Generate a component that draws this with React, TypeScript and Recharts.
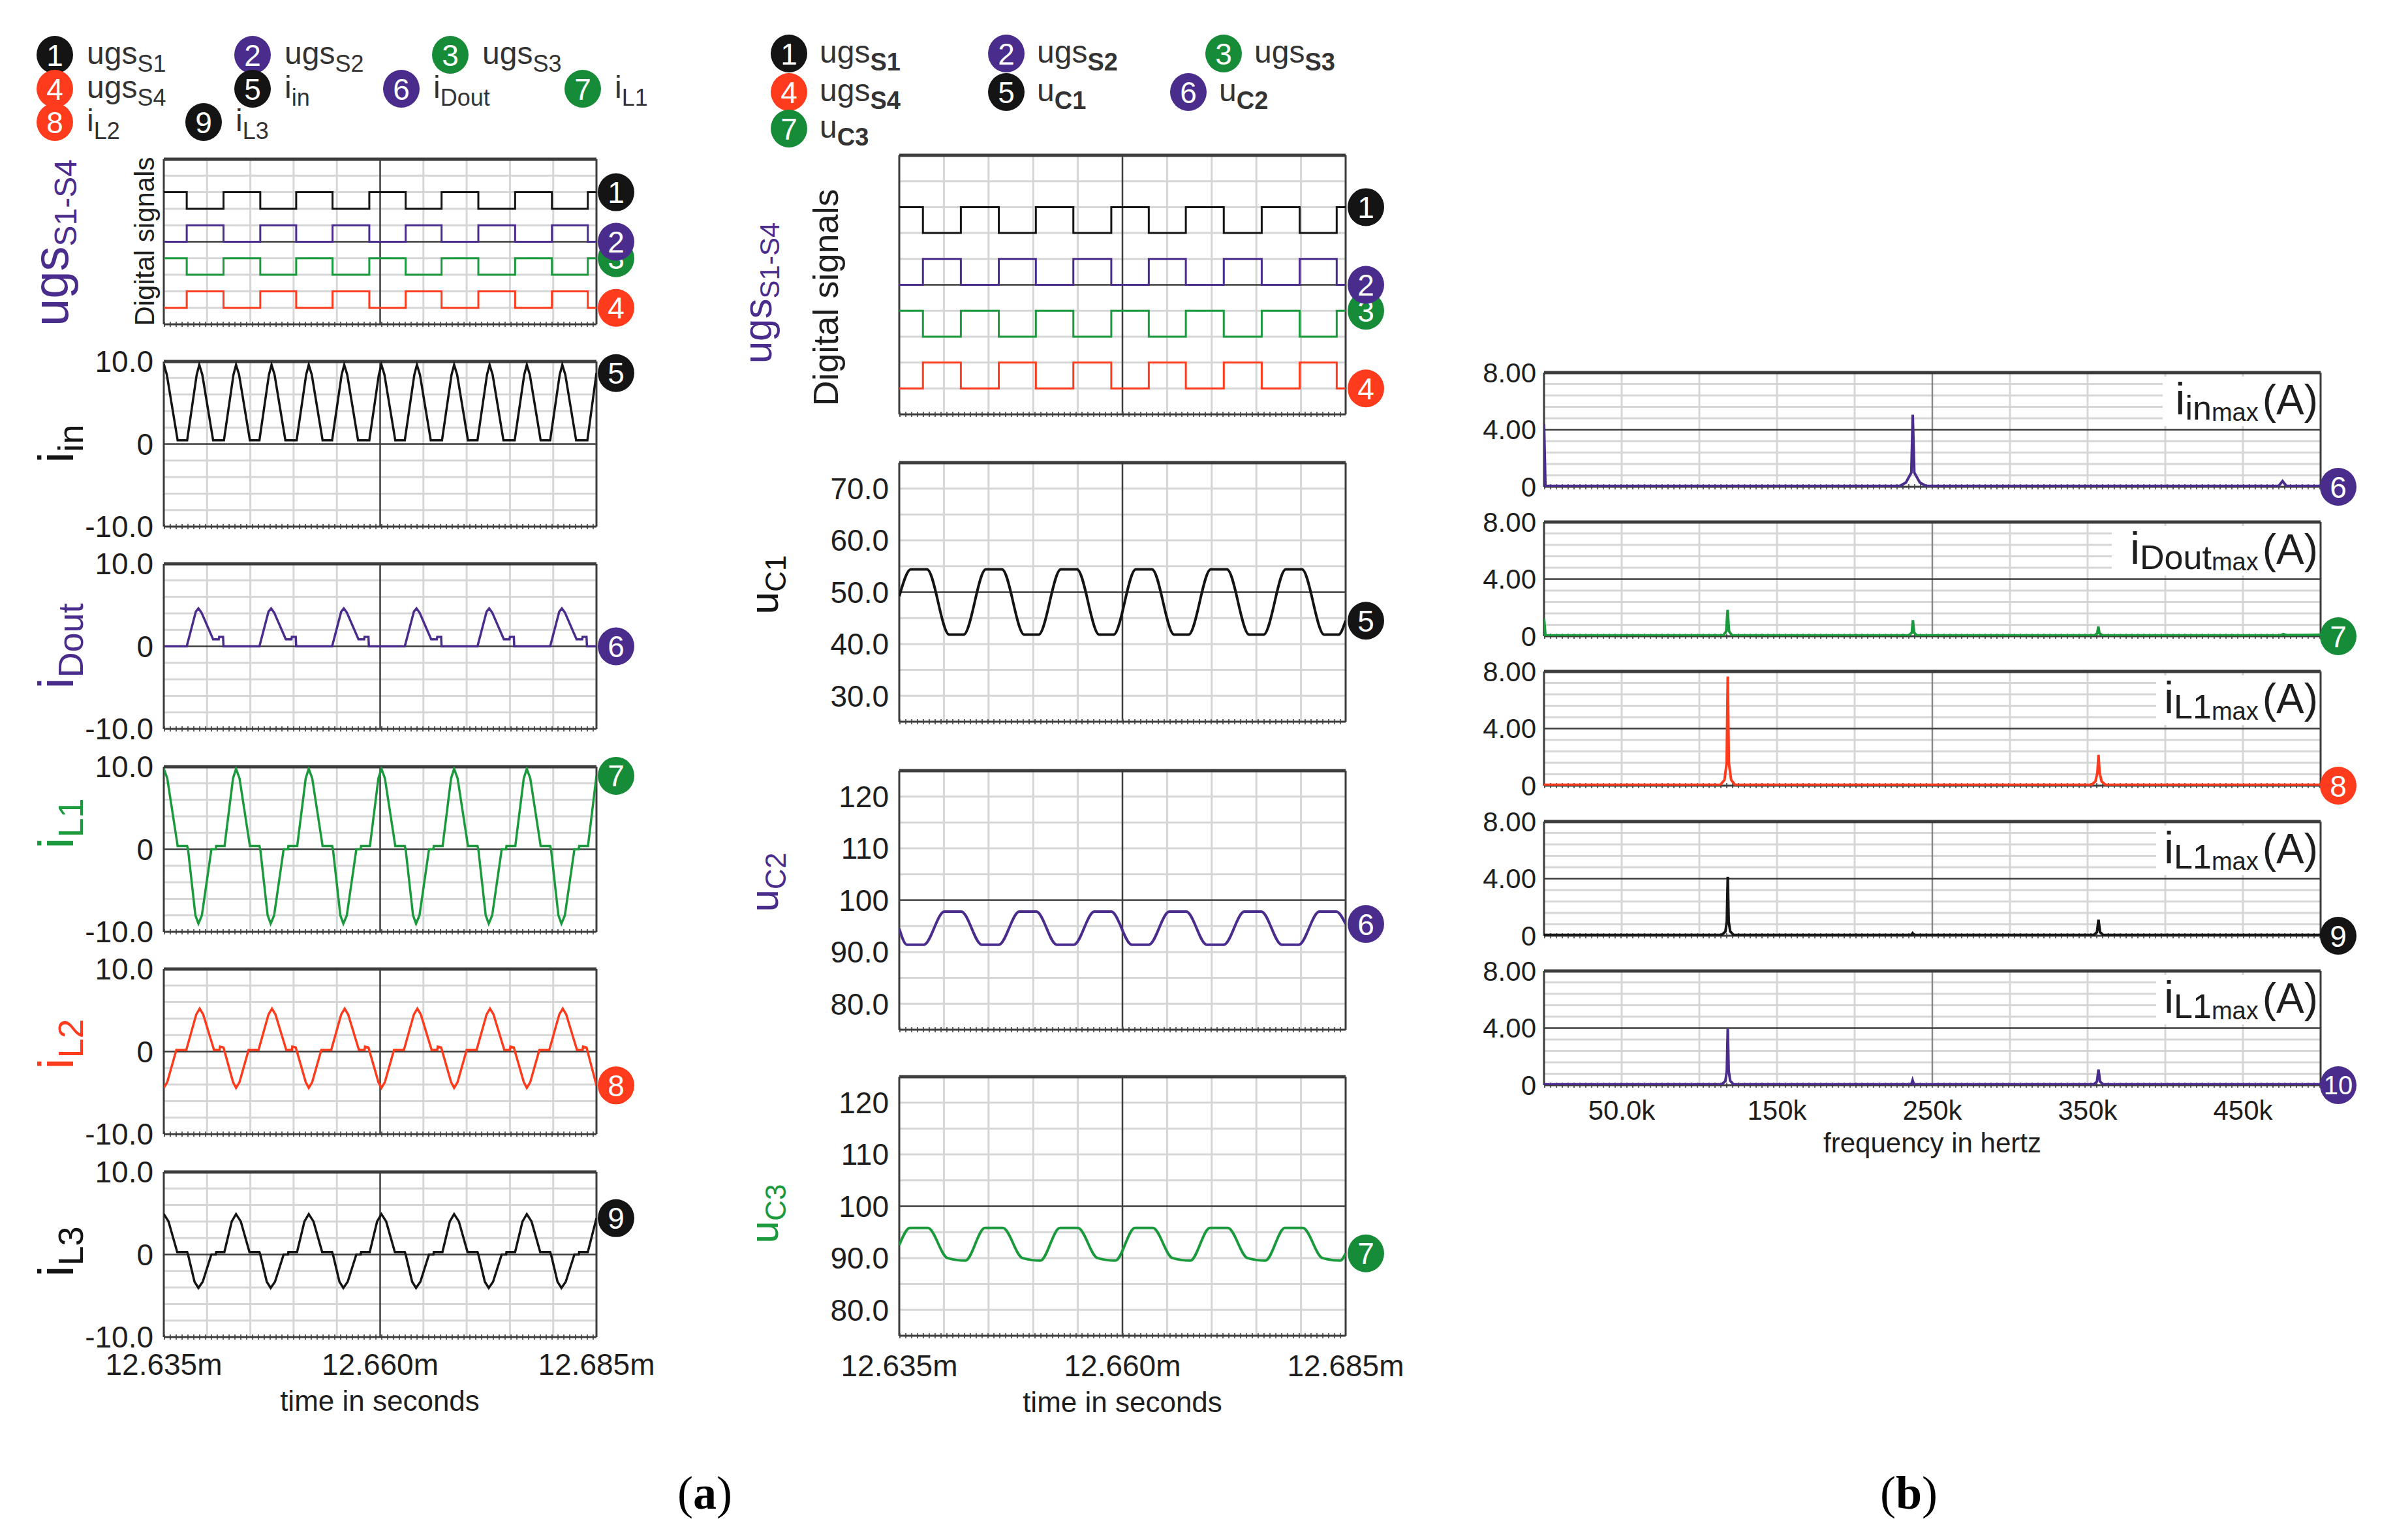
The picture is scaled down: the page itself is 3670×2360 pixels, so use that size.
import React from 'react';
import { LineChart, Line, XAxis, YAxis, ReferenceLine, ReferenceDot } from 'recharts';

type Pt = [number, number];

// time is given in µs after 12.635 ms
const TIME_TICKS = [0, 25, 50];
const TIME_LABELS = ['12.635m', '12.660m', '12.685m'];
const FREQ_TICKS = [50000, 150000, 250000, 350000, 450000];
const FREQ_LABELS = ['50.0k', '150k', '250k', '350k', '450k'];
const I_TICKS = [-10, 0, 10];
const I_LABELS = ['-10.0', '0', '10.0'];
const UC1_TICKS = [30, 40, 50, 60, 70];
const UC1_LABELS = ['30.0', '40.0', '50.0', '60.0', '70.0'];
const UC_TICKS = [80, 90, 100, 110, 120];
const UC_LABELS = ['80.0', '90.0', '100', '110', '120'];
const FFT_TICKS = [0, 4, 8];
const FFT_LABELS = ['0', '4.00', '8.00'];

// gate signals, stacked levels on the "Digital signals" plot
const DIG_T = [0, 2.65, 6.9, 11.15, 15.3, 19.5, 23.75, 27.95, 32.1, 36.35, 40.6, 44.85, 49.0, 50];
const UGS_S1 = [8, 7, 8, 7, 8, 7, 8, 7, 8, 7, 8, 7, 8, 8];
const UGS_S2 = [5, 6, 5, 6, 5, 6, 5, 6, 5, 6, 5, 6, 5, 5];
const UGS_S3 = [4, 3, 4, 3, 4, 3, 4, 3, 4, 3, 4, 3, 4, 4];
const UGS_S4 = [1, 2, 1, 2, 1, 2, 1, 2, 1, 2, 1, 2, 1, 1];

const I_IN: Pt[] = [
  [0, 9.7], [0.35, 8.4], [1.6, 0.45],
  [2.7, 0.45], [3.8, 8.4], [4.1, 9.6], [4.45, 8.4], [5.7, 0.45],
  [6.95, 0.45], [8.05, 8.4], [8.35, 9.6], [8.7, 8.4], [9.95, 0.45],
  [11.05, 0.45], [12.15, 8.4], [12.45, 9.6], [12.8, 8.4], [14.05, 0.45],
  [15.35, 0.45], [16.45, 8.4], [16.75, 9.6], [17.1, 8.4], [18.35, 0.45],
  [19.45, 0.45], [20.55, 8.4], [20.85, 9.6], [21.2, 8.4], [22.45, 0.45],
  [23.75, 0.45], [24.85, 8.4], [25.15, 9.6], [25.5, 8.4], [26.75, 0.45],
  [27.85, 0.45], [28.95, 8.4], [29.25, 9.6], [29.6, 8.4], [30.85, 0.45],
  [32.15, 0.45], [33.25, 8.4], [33.55, 9.6], [33.9, 8.4], [35.15, 0.45],
  [36.25, 0.45], [37.35, 8.4], [37.65, 9.6], [38.0, 8.4], [39.25, 0.45],
  [40.55, 0.45], [41.65, 8.4], [41.95, 9.6], [42.3, 8.4], [43.55, 0.45],
  [44.65, 0.45], [45.75, 8.4], [46.05, 9.6], [46.4, 8.4], [47.65, 0.45],
  [48.95, 0.45], [50, 8.6],
];

const I_DOUT: Pt[] = [
  [0, 0], [2.65, 0], [3.7, 4.2], [4.0, 4.6], [4.35, 4.1], [5.7, 0.85], [6.35, 0.85], [6.4, 1.15], [6.85, 1.15], [6.9, 0],
  [11.05, 0], [12.1, 4.2], [12.4, 4.6], [12.75, 4.1], [14.1, 0.85], [14.75, 0.85], [14.8, 1.15], [15.25, 1.15], [15.3, 0],
  [19.45, 0], [20.5, 4.2], [20.8, 4.6], [21.15, 4.1], [22.5, 0.85], [23.15, 0.85], [23.2, 1.15], [23.65, 1.15], [23.7, 0],
  [27.85, 0], [28.9, 4.2], [29.2, 4.6], [29.55, 4.1], [30.9, 0.85], [31.55, 0.85], [31.6, 1.15], [32.05, 1.15], [32.1, 0],
  [36.25, 0], [37.3, 4.2], [37.6, 4.6], [37.95, 4.1], [39.3, 0.85], [39.95, 0.85], [40.0, 1.15], [40.45, 1.15], [40.5, 0],
  [44.65, 0], [45.7, 4.2], [46.0, 4.6], [46.35, 4.1], [47.7, 0.85], [48.35, 0.85], [48.4, 1.15], [48.85, 1.15], [48.9, 0],
  [50, 0],
];

const I_L1: Pt[] = [
  [0, 9.75], [0.4, 8.6], [1.6, 0.4], [2.7, 0.4], [2.8, 0], [3.65, -8.0], [4.0, -9.0], [4.4, -8.0], [5.5, 0], [6.0, 0], [6.05, 0.4],
  [7.02, 0.4], [8.0, 8.6], [8.35, 9.75], [8.75, 8.6], [9.95, 0.4], [11.05, 0.4], [11.15, 0], [12.0, -8.0], [12.35, -9.0], [12.75, -8.0], [13.85, 0], [14.35, 0], [14.4, 0.4],
  [15.42, 0.4], [16.4, 8.6], [16.75, 9.75], [17.15, 8.6], [18.35, 0.4], [19.45, 0.4], [19.55, 0], [20.4, -8.0], [20.75, -9.0], [21.15, -8.0], [22.25, 0], [22.75, 0], [22.8, 0.4],
  [23.82, 0.4], [24.8, 8.6], [25.15, 9.75], [25.55, 8.6], [26.75, 0.4], [27.85, 0.4], [27.95, 0], [28.8, -8.0], [29.15, -9.0], [29.55, -8.0], [30.65, 0], [31.15, 0], [31.2, 0.4],
  [32.22, 0.4], [33.2, 8.6], [33.55, 9.75], [33.95, 8.6], [35.15, 0.4], [36.25, 0.4], [36.35, 0], [37.2, -8.0], [37.55, -9.0], [37.95, -8.0], [39.05, 0], [39.55, 0], [39.6, 0.4],
  [40.62, 0.4], [41.6, 8.6], [41.95, 9.75], [42.35, 8.6], [43.55, 0.4], [44.65, 0.4], [44.75, 0], [45.6, -8.0], [45.95, -9.0], [46.35, -8.0], [47.45, 0], [47.95, 0], [48.0, 0.4],
  [49.02, 0.4], [50, 8.9],
];

const I_L2: Pt[] = [
  [0, -4.4], [0.4, -3.7], [1.45, 0.2], [2.6, 0.2], [3.75, 4.5], [4.15, 5.2], [4.55, 4.5], [5.8, 0.2], [6.45, 0.2], [6.5, 0.6], [6.9, 0.5], [8.0, -3.7], [8.35, -4.4],
  [8.75, -3.7], [9.8, 0.2], [10.95, 0.2], [12.1, 4.5], [12.5, 5.2], [12.9, 4.5], [14.15, 0.2], [14.8, 0.2], [14.85, 0.6], [15.25, 0.5], [16.4, -3.7], [16.75, -4.4],
  [17.15, -3.7], [18.2, 0.2], [19.35, 0.2], [20.5, 4.5], [20.9, 5.2], [21.3, 4.5], [22.55, 0.2], [23.2, 0.2], [23.25, 0.6], [23.65, 0.5], [24.8, -3.7], [25.15, -4.4],
  [25.55, -3.7], [26.6, 0.2], [27.75, 0.2], [28.9, 4.5], [29.3, 5.2], [29.7, 4.5], [30.95, 0.2], [31.6, 0.2], [31.65, 0.6], [32.05, 0.5], [33.2, -3.7], [33.55, -4.4],
  [33.95, -3.7], [35.0, 0.2], [36.15, 0.2], [37.3, 4.5], [37.7, 5.2], [38.1, 4.5], [39.35, 0.2], [40.0, 0.2], [40.05, 0.6], [40.45, 0.5], [41.6, -3.7], [41.95, -4.4],
  [42.35, -3.7], [43.4, 0.2], [44.55, 0.2], [45.7, 4.5], [46.1, 5.2], [46.5, 4.5], [47.75, 0.2], [48.4, 0.2], [48.45, 0.6], [48.85, 0.5], [50, -4.1],
];

const I_L3: Pt[] = [
  [0, 4.9], [0.55, 4.0], [1.55, 0.3], [2.7, 0.3], [2.8, 0], [3.55, -3.3], [4.0, -4.05], [4.5, -3.3], [5.5, 0], [6.0, 0], [6.05, 0.3],
  [7.0, 0.3], [7.85, 4.0], [8.35, 4.9], [8.9, 4.0], [9.9, 0.3], [11.05, 0.3], [11.15, 0], [11.9, -3.3], [12.35, -4.05], [12.85, -3.3], [13.85, 0], [14.35, 0], [14.4, 0.3],
  [15.4, 0.3], [16.25, 4.0], [16.75, 4.9], [17.3, 4.0], [18.3, 0.3], [19.45, 0.3], [19.55, 0], [20.3, -3.3], [20.75, -4.05], [21.25, -3.3], [22.25, 0], [22.75, 0], [22.8, 0.3],
  [23.8, 0.3], [24.65, 4.0], [25.15, 4.9], [25.7, 4.0], [26.7, 0.3], [27.85, 0.3], [27.95, 0], [28.7, -3.3], [29.15, -4.05], [29.65, -3.3], [30.65, 0], [31.15, 0], [31.2, 0.3],
  [32.2, 0.3], [33.05, 4.0], [33.55, 4.9], [34.1, 4.0], [35.1, 0.3], [36.25, 0.3], [36.35, 0], [37.1, -3.3], [37.55, -4.05], [38.05, -3.3], [39.05, 0], [39.55, 0], [39.6, 0.3],
  [40.6, 0.3], [41.45, 4.0], [41.95, 4.9], [42.5, 4.0], [43.5, 0.3], [44.65, 0.3], [44.75, 0], [45.5, -3.3], [45.95, -4.05], [46.45, -3.3], [47.45, 0], [47.95, 0], [48.0, 0.3],
  [49.0, 0.3], [50, 4.4],
];

const U_C1: Pt[] = [
  [0, 49.2], [1.3, 54.4], [3.1, 54.4], [5.6, 41.8], [7.2, 41.8], [9.7, 54.4], [11.5, 54.4], [14.0, 41.8], [15.6, 41.8],
  [18.1, 54.4], [19.9, 54.4], [22.4, 41.8], [24.0, 41.8], [26.5, 54.4], [28.3, 54.4], [30.8, 41.8], [32.4, 41.8],
  [34.9, 54.4], [36.7, 54.4], [39.2, 41.8], [40.8, 41.8], [43.3, 54.4], [45.1, 54.4], [47.6, 41.8], [49.2, 41.8], [50, 44.5],
];

const U_C2: Pt[] = [
  [0, 94.5], [0.85, 91.4], [2.75, 91.4], [5.05, 97.8], [6.95, 97.8], [9.25, 91.4], [11.15, 91.4], [13.45, 97.8], [15.35, 97.8],
  [17.65, 91.4], [19.55, 91.4], [21.85, 97.8], [23.75, 97.8], [26.05, 91.4], [27.95, 91.4], [30.25, 97.8], [32.15, 97.8],
  [34.45, 91.4], [36.35, 91.4], [38.65, 97.8], [40.55, 97.8], [42.85, 91.4], [44.75, 91.4], [47.05, 97.8], [48.95, 97.8], [50, 95.4],
];

const U_C3: Pt[] = [
  [0, 92.5], [1.2, 95.8], [3.2, 95.8], [5.4, 90.0], [7.4, 89.5], [9.6, 95.8], [11.6, 95.8], [13.8, 90.0], [15.8, 89.5],
  [18.0, 95.8], [20.0, 95.8], [22.2, 90.0], [24.2, 89.5], [26.4, 95.8], [28.4, 95.8], [30.6, 90.0], [32.6, 89.5],
  [34.8, 95.8], [36.8, 95.8], [39.0, 90.0], [41.0, 89.5], [43.2, 95.8], [45.2, 95.8], [47.4, 90.0], [49.4, 89.5], [50, 90.9],
];

// harmonic spectra, frequency in Hz, amplitude in A
const FFT_IN: Pt[] = [
  [0, 4.4], [900, 0.06], [229000, 0.06], [233000, 0.3], [236500, 1.0], [237400, 5.05], [238400, 1.0], [242000, 0.3],
  [246000, 0.06], [473000, 0.06], [475500, 0.4], [478000, 0.06], [500000, 0.06],
];
const FFT_DOUT: Pt[] = [
  [0, 1.25], [900, 0.06], [115500, 0.06], [117300, 0.35], [118200, 1.85], [119100, 0.35], [121000, 0.06],
  [235000, 0.06], [236800, 0.25], [237500, 1.12], [238300, 0.25], [240000, 0.06],
  [354500, 0.06], [356200, 0.2], [356900, 0.68], [357600, 0.2], [359300, 0.06],
  [474000, 0.06], [476000, 0.14], [478000, 0.08], [500000, 0.1],
];
const FFT_L1: Pt[] = [
  [0, 0.06], [113500, 0.06], [116200, 0.4], [117600, 1.6], [118300, 7.65], [119000, 1.6], [120500, 0.4], [123000, 0.06],
  [352500, 0.06], [355000, 0.3], [356300, 0.9], [357000, 2.15], [357700, 0.9], [359000, 0.3], [361500, 0.06], [500000, 0.06],
];
const FFT_L2: Pt[] = [
  [0, 0.06], [114500, 0.06], [116800, 0.3], [117700, 1.0], [118300, 4.12], [118900, 1.0], [119900, 0.3], [122000, 0.06],
  [236500, 0.06], [237300, 0.18], [238100, 0.06],
  [354000, 0.06], [356000, 0.25], [357000, 1.12], [358000, 0.25], [360000, 0.06], [500000, 0.06],
];
const FFT_L3: Pt[] = [
  [0, 0.06], [114500, 0.06], [116800, 0.3], [117700, 1.0], [118300, 3.95], [118900, 1.0], [119900, 0.3], [122000, 0.06],
  [236500, 0.06], [237300, 0.35], [238100, 0.06],
  [354000, 0.06], [356000, 0.25], [357000, 1.1], [358000, 0.25], [360000, 0.06], [500000, 0.06],
];

const SANS = '"Liberation Sans", Arial, Helvetica, sans-serif';
const NARROW = '"Liberation Sans Narrow", "Liberation Sans", Arial, sans-serif';
const SERIF = '"Liberation Serif", "Times New Roman", serif';
const TEXT = '#1e1e1e';
const BLACK = '#141414';
const PURPLE = '#4a2c8c';
const GREEN = '#1a9a3c';
const GREEN_B = '#178c38';
const RED = '#ff3b1d';
const GRID = '#d6d6d6';
const DARK = '#3c3c3c';

const PAD_T = 40;
const PAD_R = 110;
const PAD_B = 40;
const X_AX_H = 95;

const rows = (pts: Pt[]) => pts.map(([t, v]) => ({ t, v }));
const stepRows = (vals: number[]) => DIG_T.map((t, i) => ({ t, v: vals[i] }));
const fmt = (ticks: number[], labels: string[]) => (v: number) => {
  const i = ticks.findIndex((t) => Math.abs(t - v) < 1e-6);
  return i >= 0 ? labels[i] : '';
};

function Badge({ cx, cy, label, fill, r = 28 }: { cx: number; cy: number; label: string; fill: string; r?: number }) {
  return (
    <g>
      <ellipse cx={cx} cy={cy} rx={r} ry={r + 1} fill={fill} />
      <text x={cx} y={cy} dy="0.36em" textAnchor="middle" fill="#fff" fontSize={label.length > 1 ? 40 : 46} fontFamily={NARROW}>
        {label}
      </text>
    </g>
  );
}

type Trace = { data: { t: number; v: number }[]; color: string; width?: number; curve?: 'linear' | 'stepAfter' | 'monotone' };
type BadgeSpec = { v: number; label: string; fill: string };

interface ScopeProps {
  x: number; y: number; w: number; h: number;
  xDomain: [number, number]; yDomain: [number, number];
  yTicks?: number[]; yLabels?: string[];
  xTicks?: number[]; xLabels?: string[]; xTickMargin?: number;
  hGrid: number[]; hDark: number[]; vGrid: number[]; vDark: number[]; vDarkColor?: string;
  traces: Trace[]; badges: BadgeSpec[];
  axisW: number; fontSize: number; yTickMargin: number; badgeDx: number;
}

function Scope(p: ScopeProps) {
  const hasX = !!p.xTicks;
  const [x0, x1] = p.xDomain;
  const [y0, y1] = p.yDomain;
  const tickStyle = { fontSize: p.fontSize, fill: TEXT, fontFamily: SANS };
  return (
    <div style={{ position: 'absolute', left: p.x - p.axisW, top: p.y - PAD_T }}>
      <LineChart
        width={p.axisW + p.w + PAD_R}
        height={PAD_T + p.h + (hasX ? X_AX_H : PAD_B)}
        margin={{ top: PAD_T, right: PAD_R, bottom: hasX ? 0 : PAD_B, left: 0 }}
      >
        <XAxis
          type="number" dataKey="t" domain={p.xDomain} allowDataOverflow hide={!hasX}
          height={hasX ? X_AX_H : 0} ticks={p.xTicks} interval={0}
          tickFormatter={hasX ? fmt(p.xTicks!, p.xLabels!) : undefined}
          tickLine={false} axisLine={false} tickSize={6} tickMargin={p.xTickMargin ?? 18} tick={tickStyle}
        />
        <YAxis
          type="number" domain={p.yDomain} allowDataOverflow width={p.axisW}
          ticks={p.yTicks} interval={0} tick={p.yTicks ? tickStyle : false}
          tickFormatter={p.yTicks ? fmt(p.yTicks, p.yLabels!) : undefined}
          tickLine={false} axisLine={false} tickSize={6} tickMargin={p.yTickMargin}
        />
        {p.hGrid.map((v) => <ReferenceLine key={'h' + v} y={v} stroke={GRID} strokeWidth={3} />)}
        {p.vGrid.map((v) => <ReferenceLine key={'v' + v} x={v} stroke={GRID} strokeWidth={3} />)}
        {p.vDark.map((v) => <ReferenceLine key={'vd' + v} x={v} stroke={p.vDarkColor ?? DARK} strokeWidth={2.5} />)}
        {p.hDark.map((v) => <ReferenceLine key={'hd' + v} y={v} stroke={DARK} strokeWidth={2.5} />)}
        <ReferenceLine y={y0} stroke="#666" strokeWidth={8} strokeDasharray="2 7" />
        <ReferenceLine y={y0} stroke={DARK} strokeWidth={3} />
        <ReferenceLine y={y1} stroke={DARK} strokeWidth={5} />
        <ReferenceLine x={x0} stroke={DARK} strokeWidth={3} />
        <ReferenceLine x={x1} stroke={DARK} strokeWidth={3} />
        {p.traces.map((tr, i) => (
          <Line
            key={i} data={tr.data} dataKey="v" type={tr.curve ?? 'linear'} stroke={tr.color}
            strokeWidth={tr.width ?? 3.5} dot={false} activeDot={false} isAnimationActive={false}
          />
        ))}
        {p.badges.map((b, i) => (
          <ReferenceDot
            key={'b' + i} x={x1} y={b.v} r={0} ifOverflow="visible"
            shape={(sp: any) => <Badge cx={sp.cx + p.badgeDx} cy={sp.cy} label={b.label} fill={b.fill} />}
          />
        ))}
      </LineChart>
    </div>
  );
}

// grid sets (data units)
const T_GRID = [5, 10, 15, 20, 30, 35, 40, 45];
const I_GRID = [-8, -6, -4, -2, 2, 4, 6, 8];
const DIG_GRID = [1, 2, 3, 4, 6, 7, 8, 9];
const UC1_GRID = [30, 35, 40, 45, 55, 60, 65, 70];
const UC_GRID = [80, 85, 90, 95, 105, 110, 115, 120];
const F_GRID = [50000, 100000, 150000, 200000, 300000, 350000, 400000, 450000];
const FA_GRID = [0.8, 1.6, 2.4, 3.2, 4.8, 5.6, 6.4, 7.2];

const LEFT = { x: 251, w: 663, h: 253, axisW: 130, fontSize: 46, yTickMargin: 10, badgeDx: 30 };
const MID = { x: 1378, w: 684, h: 397, axisW: 130, fontSize: 46, yTickMargin: 10, badgeDx: 31 };
const RIGHT = { x: 2366, w: 1190, h: 175, axisW: 115, fontSize: 42, yTickMargin: 6, badgeDx: 27 };

const digitalTraces: Trace[] = [
  { data: stepRows(UGS_S1), color: BLACK, width: 3, curve: 'stepAfter' },
  { data: stepRows(UGS_S2), color: PURPLE, width: 3, curve: 'stepAfter' },
  { data: stepRows(UGS_S3), color: GREEN, width: 3, curve: 'stepAfter' },
  { data: stepRows(UGS_S4), color: RED, width: 3, curve: 'stepAfter' },
];
const digitalBadges: BadgeSpec[] = [
  { v: 1, label: '4', fill: RED },
  { v: 4, label: '3', fill: GREEN_B },
  { v: 5, label: '2', fill: PURPLE },
  { v: 8, label: '1', fill: BLACK },
];

const LEFT_LEGEND = [
  { x: 84, y: 84, n: '1', fill: BLACK, main: 'ugs', sub: 'S1' },
  { x: 387, y: 84, n: '2', fill: PURPLE, main: 'ugs', sub: 'S2' },
  { x: 690, y: 84, n: '3', fill: GREEN_B, main: 'ugs', sub: 'S3' },
  { x: 84, y: 136, n: '4', fill: RED, main: 'ugs', sub: 'S4' },
  { x: 387, y: 136, n: '5', fill: BLACK, main: 'i', sub: 'in' },
  { x: 615, y: 136, n: '6', fill: PURPLE, main: 'i', sub: 'Dout' },
  { x: 893, y: 136, n: '7', fill: GREEN_B, main: 'i', sub: 'L1' },
  { x: 84, y: 187, n: '8', fill: RED, main: 'i', sub: 'L2' },
  { x: 312, y: 187, n: '9', fill: BLACK, main: 'i', sub: 'L3' },
];
const MID_LEGEND = [
  { x: 1209, y: 82, n: '1', fill: BLACK, main: 'ugs', sub: 'S1' },
  { x: 1542, y: 82, n: '2', fill: PURPLE, main: 'ugs', sub: 'S2' },
  { x: 1875, y: 82, n: '3', fill: GREEN_B, main: 'ugs', sub: 'S3' },
  { x: 1209, y: 141, n: '4', fill: RED, main: 'ugs', sub: 'S4' },
  { x: 1542, y: 141, n: '5', fill: BLACK, main: 'u', sub: 'C1' },
  { x: 1821, y: 141, n: '6', fill: PURPLE, main: 'u', sub: 'C2' },
  { x: 1209, y: 197, n: '7', fill: GREEN_B, main: 'u', sub: 'C3' },
];

function VLabel({ x, y, color, main, sub, fs, subFs, family = NARROW }: any) {
  return (
    <text x={x} y={y} transform={`rotate(-90 ${x} ${y})`} textAnchor="middle" fill={color} fontSize={fs} fontFamily={family}>
      {main}
      {sub ? <tspan fontSize={subFs} dy={subFs * 0.28}>{sub}</tspan> : null}
    </text>
  );
}

function FftTag({ right, top, sub, boxW }: { right: number; top: number; sub: string; boxW: number }) {
  return (
    <g>
      <rect x={right - boxW} y={top + 6} width={boxW - 2} height={76} fill="#fff" />
      <text x={right - 4} y={top + 64} textAnchor="end" fontFamily={NARROW} fontSize={68} fill={TEXT}>
        i<tspan fontSize={52} dy={8}>{sub}</tspan>
        <tspan fontSize={38} dy={2}>max</tspan>
        <tspan fontSize={64} dx={6} dy={-10}>(A)</tspan>
      </text>
    </g>
  );
}

export default function App() {
  const iPlot = (y: number, data: Pt[], color: string, n: string, badgeFill: string, last = false) => (
    <Scope
      {...LEFT} y={y} xDomain={[0, 50]} yDomain={[-10, 10]} yTicks={I_TICKS} yLabels={I_LABELS}
      xTicks={last ? TIME_TICKS : undefined} xLabels={TIME_LABELS} xTickMargin={19}
      hGrid={I_GRID} hDark={[0]} vGrid={T_GRID} vDark={[25]}
      traces={[{ data: rows(data), color }]} badges={[{ v: data[data.length - 1][1], label: n, fill: badgeFill }]}
    />
  );
  const ucPlot = (y: number, data: Pt[], dom: [number, number], ticks: number[], labels: string[], grid: number[], dark: number, color: string, n: string, fill: string, last = false) => (
    <Scope
      {...MID} y={y} xDomain={[0, 50]} yDomain={dom} yTicks={ticks} yLabels={labels}
      xTicks={last ? TIME_TICKS : undefined} xLabels={TIME_LABELS} xTickMargin={23}
      hGrid={grid} hDark={[dark]} vGrid={T_GRID} vDark={[25]}
      traces={[{ data: rows(data), color, curve: 'monotone', width: 4 }]}
      badges={[{ v: data[data.length - 1][1], label: n, fill }]}
    />
  );
  const fftPlot = (y: number, data: Pt[], color: string, n: string, fill: string, last = false) => (
    <Scope
      {...RIGHT} y={y} xDomain={[0, 500000]} yDomain={[0, 8]} yTicks={FFT_TICKS} yLabels={FFT_LABELS}
      xTicks={last ? FREQ_TICKS : undefined} xLabels={FREQ_LABELS} xTickMargin={17}
      hGrid={FA_GRID} hDark={[4]} vGrid={F_GRID} vDark={[250000]} vDarkColor="#8a8a8a"
      traces={[{ data: rows(data), color, width: 4 }]} badges={[{ v: 0, label: n, fill }]}
    />
  );

  return (
    <div style={{ position: 'absolute', left: 0, top: 0, width: 3670, height: 2360, background: '#fff', overflow: 'hidden' }}>
      {/* (a) left column */}
      <Scope {...LEFT} y={244} xDomain={[0, 50]} yDomain={[0, 10]} hGrid={DIG_GRID} hDark={[5]} vGrid={T_GRID} vDark={[25]} traces={digitalTraces} badges={digitalBadges} />
      {iPlot(554, I_IN, BLACK, '5', BLACK)}
      {iPlot(864, I_DOUT, PURPLE, '6', PURPLE)}
      {iPlot(1175, I_L1, GREEN, '7', GREEN_B)}
      {iPlot(1485, I_L2, RED, '8', RED)}
      {iPlot(1796, I_L3, BLACK, '9', BLACK, true)}

      {/* (a) middle column */}
      <Scope {...MID} y={238} xDomain={[0, 50]} yDomain={[0, 10]} hGrid={DIG_GRID} hDark={[5]} vGrid={T_GRID} vDark={[25]} traces={digitalTraces} badges={digitalBadges} />
      {ucPlot(709, U_C1, [25, 75], UC1_TICKS, UC1_LABELS, UC1_GRID, 50, BLACK, '5', BLACK)}
      {ucPlot(1181, U_C2, [75, 125], UC_TICKS, UC_LABELS, UC_GRID, 100, PURPLE, '6', PURPLE)}
      {ucPlot(1650, U_C3, [75, 125], UC_TICKS, UC_LABELS, UC_GRID, 100, GREEN, '7', GREEN_B, true)}

      {/* (b) spectra */}
      {fftPlot(571, FFT_IN, PURPLE, '6', PURPLE)}
      {fftPlot(800, FFT_DOUT, GREEN, '7', GREEN_B)}
      {fftPlot(1029, FFT_L1, RED, '8', RED)}
      {fftPlot(1259, FFT_L2, BLACK, '9', BLACK)}
      {fftPlot(1488, FFT_L3, PURPLE, '10', PURPLE, true)}

      <svg width={3670} height={2360} style={{ position: 'absolute', left: 0, top: 0, pointerEvents: 'none' }}>
        {LEFT_LEGEND.map((e) => (
          <g key={'l' + e.n}>
            <Badge cx={e.x} cy={e.y} label={e.n} fill={e.fill} />
            <text x={e.x + 49} y={e.y + 14} fontSize={48} fontFamily={NARROW} fill="#333">
              {e.main}<tspan fontSize={36} dy={12}>{e.sub}</tspan>
            </text>
          </g>
        ))}
        {MID_LEGEND.map((e) => (
          <g key={'m' + e.n}>
            <Badge cx={e.x} cy={e.y} label={e.n} fill={e.fill} />
            <text x={e.x + 47} y={e.y + 14} fontSize={48} fontFamily={NARROW} fill="#333">
              {e.main}<tspan fontSize={38} dy={12} fontWeight="bold">{e.sub}</tspan>
            </text>
          </g>
        ))}

        <VLabel x={104} y={372} color={PURPLE} main="ugs" sub="S1-S4" fs={76} subFs={48} />
        <VLabel x={236} y={370} color={TEXT} main="Digital signals" fs={42} family={SANS} />
        <VLabel x={112} y={680} color={BLACK} main="i" sub="in" fs={76} subFs={54} />
        <VLabel x={112} y={990} color={PURPLE} main="i" sub="Dout" fs={76} subFs={54} />
        <VLabel x={112} y={1262} color={GREEN} main="i" sub="L1" fs={76} subFs={54} />
        <VLabel x={112} y={1600} color={RED} main="i" sub="L2" fs={76} subFs={54} />
        <VLabel x={112} y={1918} color={BLACK} main="i" sub="L3" fs={76} subFs={54} />

        <VLabel x={1182} y={449} color={PURPLE} main="ugs" sub="S1-S4" fs={62} subFs={42} />
        <VLabel x={1284} y={456} color={TEXT} main="Digital signals" fs={54} family={SANS} />
        <VLabel x={1192} y={896} color={BLACK} main="u" sub="C1" fs={62} subFs={44} />
        <VLabel x={1192} y={1352} color={PURPLE} main="u" sub="C2" fs={62} subFs={44} />
        <VLabel x={1192} y={1860} color={GREEN} main="u" sub="C3" fs={62} subFs={44} />

        <text x={582} y={2162} textAnchor="middle" fontSize={44} fontFamily={SANS} fill={TEXT}>time in seconds</text>
        <text x={1720} y={2164} textAnchor="middle" fontSize={44} fontFamily={SANS} fill={TEXT}>time in seconds</text>
        <text x={2961} y={1766} textAnchor="middle" fontSize={42} fontFamily={SANS} fill={TEXT}>frequency in hertz</text>

        <FftTag right={3556} top={571} sub="in" boxW={242} />
        <FftTag right={3556} top={800} sub="Dout" boxW={320} />
        <FftTag right={3556} top={1029} sub="L1" boxW={252} />
        <FftTag right={3556} top={1259} sub="L1" boxW={252} />
        <FftTag right={3556} top={1488} sub="L1" boxW={252} />

        <text x={1080} y={2312} textAnchor="middle" fontSize={72} fontFamily={SERIF} fill="#000">
          (<tspan fontWeight="bold">a</tspan>)
        </text>
        <text x={2925} y={2312} textAnchor="middle" fontSize={72} fontFamily={SERIF} fill="#000">
          (<tspan fontWeight="bold">b</tspan>)
        </text>
      </svg>
    </div>
  );
}
